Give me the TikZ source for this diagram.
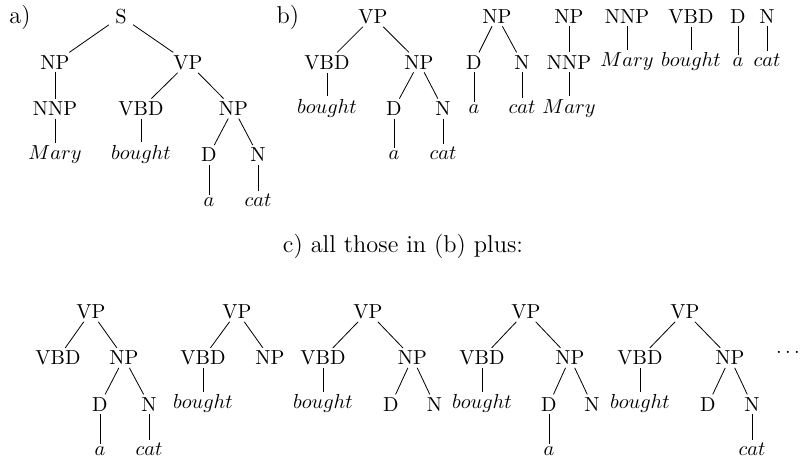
\documentclass[tikz,border=0pt]{standalone}
\begin{document}
\begin{tikzpicture}[x=0.4926pt,y=-0.4926pt,
  tn/.style={anchor=base,inner xsep=3pt,inner ysep=1.3pt},
  wd/.style={tn,execute at begin node=$,execute at end node=$},
  lbl/.style={anchor=base,font=\large}]
\useasboundingbox (0,0) rectangle (800,464);
% labels
\node[lbl] (la) at (20,23.3) {a)};
\node[lbl] (lb) at (288,23.3) {b)};
\node[lbl] (lc) at (403,253) {c) all those in (b) plus:};
% ---- tree a
\node[tn] (aS) at (121,23.3) {S};
\node[tn] (aNP) at (55,69.3) {NP};
\node[tn] (aVP) at (188,69.3) {VP};
\node[tn] (aNNP) at (55,115.5) {NNP};
\node[tn] (aVBD) at (141,115.5) {VBD};
\node[tn] (aNPb) at (233.5,115.5) {NP};
\node[wd] (aMary) at (55,159.5) {Mary};
\node[wd] (abought) at (141,159.5) {bought};
\node[tn] (aD) at (209,162) {D};
\node[tn] (aN) at (258,162) {N};
\node[wd] (aa) at (209,206.5) {a};
\node[wd] (acat) at (258,206.5) {cat};
\draw (aS) -- (aNP); \draw (aS) -- (aVP);
\draw (aNP) -- (aNNP); \draw (aNNP) -- (aMary);
\draw (aVP) -- (aVBD); \draw (aVP) -- (aNPb);
\draw (aVBD) -- (abought);
\draw (aNPb) -- (aD); \draw (aNPb) -- (aN);
\draw (aD) -- (aa); \draw (aN) -- (acat);
% ---- tree b1
\node[tn] (bVP) at (373,23.3) {VP};
\node[tn] (bVBD) at (327,69.3) {VBD};
\node[tn] (bNP) at (419,69.3) {NP};
\node[wd] (bbought) at (327,113.3) {bought};
\node[tn] (bD) at (394,115.5) {D};
\node[tn] (bN) at (443,115.5) {N};
\node[wd] (ba) at (394,159.5) {a};
\node[wd] (bcat) at (443,159.5) {cat};
\draw (bVP) -- (bVBD); \draw (bVP) -- (bNP);
\draw (bVBD) -- (bbought);
\draw (bNP) -- (bD); \draw (bNP) -- (bN);
\draw (bD) -- (ba); \draw (bN) -- (bcat);
% b2
\node[tn] (b2NP) at (497,23.3) {NP};
\node[tn] (b2D) at (474,69.3) {D};
\node[tn] (b2N) at (522,69.3) {N};
\node[wd] (b2a) at (474,113.3) {a};
\node[wd] (b2cat) at (522,113.3) {cat};
\draw (b2NP) -- (b2D); \draw (b2NP) -- (b2N);
\draw (b2D) -- (b2a); \draw (b2N) -- (b2cat);
% b3
\node[tn] (b3NP) at (569,23.3) {NP};
\node[tn] (b3NNP) at (569,69.3) {NNP};
\node[wd] (b3Mary) at (569,113.3) {Mary};
\draw (b3NP) -- (b3NNP); \draw (b3NNP) -- (b3Mary);
% b4-b7
\node[tn] (b4NNP) at (627,23.3) {NNP};
\node[wd] (b4Mary) at (627,67) {Mary};
\draw (b4NNP) -- (b4Mary);
\node[tn] (b5VBD) at (691,23.3) {VBD};
\node[wd] (b5bought) at (691,67) {bought};
\draw (b5VBD) -- (b5bought);
\node[tn] (b6D) at (738,23.3) {D};
\node[wd] (b6a) at (738,67) {a};
\draw (b6D) -- (b6a);
\node[tn] (b7N) at (767,23.3) {N};
\node[wd] (b7cat) at (767,67) {cat};
\draw (b7N) -- (b7cat);
% ---- c1
\node[tn] (c1VP) at (91,318.3) {VP};
\node[tn] (c1VBD) at (58,364.8) {VBD};
\node[tn] (c1NP) at (124,364.8) {NP};
\node[tn] (c1D) at (100,411.3) {D};
\node[tn] (c1N) at (149,411.3) {N};
\node[wd] (c1a) at (100,455.5) {a};
\node[wd] (c1cat) at (149,455.5) {cat};
\draw (c1VP) -- (c1VBD); \draw (c1VP) -- (c1NP);
\draw (c1NP) -- (c1D); \draw (c1NP) -- (c1N);
\draw (c1D) -- (c1a); \draw (c1N) -- (c1cat);
% c2
\node[tn] (c2VP) at (237,318.3) {VP};
\node[tn] (c2VBD) at (203,364.8) {VBD};
\node[tn] (c2NP) at (270,364.8) {NP};
\node[wd] (c2bought) at (203,409) {bought};
\draw (c2VP) -- (c2VBD); \draw (c2VP) -- (c2NP);
\draw (c2VBD) -- (c2bought);
% c3
\node[tn] (c3VP) at (368,318.3) {VP};
\node[tn] (c3VBD) at (323,364.8) {VBD};
\node[tn] (c3NP) at (412.5,364.8) {NP};
\node[wd] (c3bought) at (323,409) {bought};
\node[tn] (c3D) at (391,411.3) {D};
\node[tn] (c3N) at (434.5,411.3) {N};
\draw (c3VP) -- (c3VBD); \draw (c3VP) -- (c3NP);
\draw (c3VBD) -- (c3bought);
\draw (c3NP) -- (c3D); \draw (c3NP) -- (c3N);
% c4
\node[tn] (c4VP) at (526,318.3) {VP};
\node[tn] (c4VBD) at (482,364.8) {VBD};
\node[tn] (c4NP) at (570,364.8) {NP};
\node[wd] (c4bought) at (482,409) {bought};
\node[tn] (c4D) at (549,411.3) {D};
\node[tn] (c4N) at (592,411.3) {N};
\node[wd] (c4a) at (549,455.5) {a};
\draw (c4VP) -- (c4VBD); \draw (c4VP) -- (c4NP);
\draw (c4VBD) -- (c4bought);
\draw (c4NP) -- (c4D); \draw (c4NP) -- (c4N);
\draw (c4D) -- (c4a);
% c5
\node[tn] (c5VP) at (685,318.3) {VP};
\node[tn] (c5VBD) at (640,364.8) {VBD};
\node[tn] (c5NP) at (730,364.8) {NP};
\node[wd] (c5bought) at (640,409) {bought};
\node[tn] (c5D) at (708,411.3) {D};
\node[tn] (c5N) at (752,411.3) {N};
\node[wd] (c5cat) at (752,455.5) {cat};
\draw (c5VP) -- (c5VBD); \draw (c5VP) -- (c5NP);
\draw (c5VBD) -- (c5bought);
\draw (c5NP) -- (c5D); \draw (c5NP) -- (c5N);
\draw (c5N) -- (c5cat);
% dots
\node[tn] (dots) at (788,354) {$\dots$};
\end{tikzpicture}
\end{document}
